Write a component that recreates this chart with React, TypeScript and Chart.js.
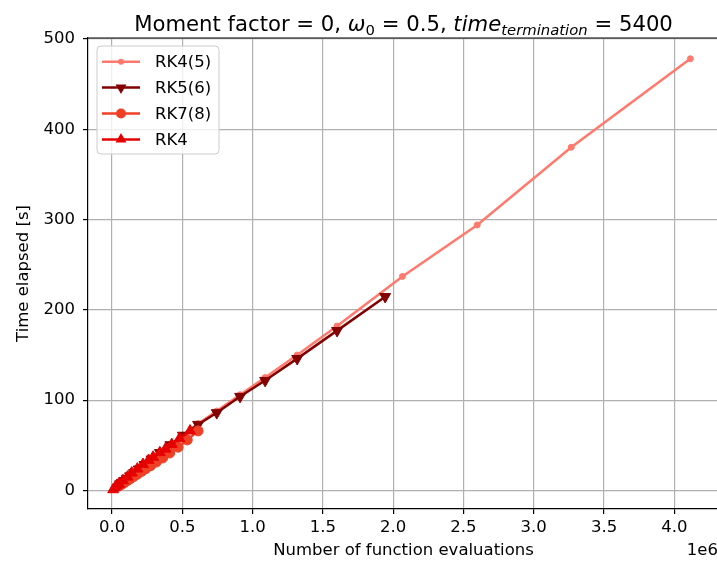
import React, { useEffect, useRef } from "react";
import { Chart, registerables } from "chart.js";

Chart.register(...registerables);

const FONT = "'DejaVu Sans', 'Liberation Sans', sans-serif";

// ---------- data ----------
const RK45_EVALS = [40e3, 48e3, 58e3, 71e3, 87e3, 105e3, 128e3, 156e3, 190e3, 231e3, 281e3, 341e3, 415e3, 504e3, 612e3, 745e3, 911e3, 1089e3, 1317e3, 1601e3, 2066e3, 2598e3, 3267e3, 4114e3];
const RK45_TIME = [5, 6.1, 7.4, 9, 11, 13.4, 16.2, 19.7, 24, 29, 35, 42, 51, 61.5, 74, 88, 106, 125, 150, 182, 237, 294, 380, 478];

const RK56_EVALS = [58e3, 71e3, 87e3, 105e3, 128e3, 156e3, 190e3, 231e3, 281e3, 341e3, 415e3, 504e3, 612e3, 745e3, 911e3, 1089e3, 1317e3, 1601e3, 1943e3];
const RK56_TIME = [7.3, 8.9, 10.9, 13.2, 16, 19.5, 23.6, 28.6, 34.6, 41.8, 50.5, 61, 73, 86, 104, 121.7, 146, 177, 214.6];

const RK78_EVALS = [60e3, 75e3, 90e3, 110e3, 130e3, 155e3, 180e3, 210e3, 240e3, 275e3, 315e3, 360e3, 410e3, 470e3, 535e3, 612e3];
const RK78_TIME = [6, 7.5, 9, 11, 13, 15.5, 18, 21, 24, 27.5, 31.5, 36, 41.5, 48, 56, 66];

const RK4_EVALS = [8e3, 20e3, 33e3, 50e3, 78e3, 110e3, 140e3, 180e3, 220e3, 260e3, 292e3, 340e3, 380e3, 425e3, 480e3, 555e3];
const RK4_TIME = [1, 3, 5, 7, 11, 15, 19.5, 24, 29, 33.5, 37, 42, 46, 51, 57.5, 66];

const SERIES_LABELS = ["RK4(5)", "RK5(6)", "RK7(8)", "RK4"];
const SERIES_COLORS = ["#ff796c", "#840000", "#ef4026", "#e50000"];

const X_TICKS = [0, 0.5e6, 1e6, 1.5e6, 2e6, 2.5e6, 3e6, 3.5e6, 4e6];
const Y_TICKS = [0, 100, 200, 300, 400, 500];
const X_LIMITS = [-0.171e6, 4.318e6];
const Y_LIMITS = [-20.5, 501];

const X_LABEL = "Number of function evaluations";
const Y_LABEL = "Time elapsed [s]";
const OFFSET_TEXT = "1e6";
const TITLE_PARTS = [
  { t: "Moment factor = 0, ", italic: false, sub: false },
  { t: "ω", italic: true, sub: false },
  { t: "0", italic: false, sub: true },
  { t: " = 0.5, ", italic: false, sub: false },
  { t: "time", italic: true, sub: false },
  { t: "termination", italic: true, sub: true },
  { t: " = 5400", italic: false, sub: false },
];

const zip = (xs: number[], ys: number[]) => xs.map((x, i) => ({ x, y: ys[i] }));

const decorPlugin = {
  id: "decor",
  afterDraw(chart: any) {
    const { ctx, chartArea: a } = chart;
    ctx.save();
    // top & right spines
    ctx.strokeStyle = "#000";
    ctx.lineWidth = 1.2;
    ctx.beginPath();
    ctx.moveTo(a.left, a.top);
    ctx.lineTo(a.right, a.top);
    ctx.lineTo(a.right, a.bottom);
    ctx.stroke();

    // title
    const base = 21.2;
    const parts = TITLE_PARTS.map((p) => {
      const size = p.sub ? base * 0.7 : base;
      const font = `${p.italic ? "italic " : ""}${size}px ${FONT}`;
      ctx.font = font;
      return { ...p, font, w: ctx.measureText(p.t).width };
    });
    const total = parts.reduce((s, p) => s + p.w, 0);
    let x = (a.left + a.right) / 2 - total / 2;
    ctx.fillStyle = "#000";
    ctx.textAlign = "left";
    ctx.textBaseline = "alphabetic";
    for (const p of parts) {
      ctx.font = p.font;
      ctx.fillText(p.t, x, p.sub ? 34.5 : 31);
      x += p.w;
    }

    // offset text
    ctx.font = `16.5px ${FONT}`;
    ctx.textAlign = "right";
    ctx.textBaseline = "middle";
    ctx.fillText(OFFSET_TEXT, 718, 551);

    // legend
    const lx = 97, ly = 46, lw = 122, lh = 108, r = 4;
    ctx.beginPath();
    ctx.moveTo(lx + r, ly);
    ctx.lineTo(lx + lw - r, ly);
    ctx.quadraticCurveTo(lx + lw, ly, lx + lw, ly + r);
    ctx.lineTo(lx + lw, ly + lh - r);
    ctx.quadraticCurveTo(lx + lw, ly + lh, lx + lw - r, ly + lh);
    ctx.lineTo(lx + r, ly + lh);
    ctx.quadraticCurveTo(lx, ly + lh, lx, ly + lh - r);
    ctx.lineTo(lx, ly + r);
    ctx.quadraticCurveTo(lx, ly, lx + r, ly);
    ctx.closePath();
    ctx.fillStyle = "rgba(255,255,255,0.8)";
    ctx.fill();
    ctx.strokeStyle = "#cccccc";
    ctx.lineWidth = 1;
    ctx.stroke();

    chart.data.datasets.forEach((ds: any, i: number) => {
      const cy = 61.7 + i * 25.9;
      ctx.strokeStyle = ds.borderColor;
      ctx.fillStyle = ds.borderColor;
      ctx.lineWidth = 2.5;
      ctx.beginPath();
      ctx.moveTo(102, cy);
      ctx.lineTo(140, cy);
      ctx.stroke();
      const mx = 121;
      const rad0 = (ds.pointRotation || 0) * Math.PI / 180;
      ctx.beginPath();
      if (ds.pointStyle === "triangle") {
        let rad = rad0;
        ctx.moveTo(mx + Math.sin(rad) * ds.pointRadius, cy - Math.cos(rad) * ds.pointRadius);
        rad += (2 * Math.PI) / 3;
        ctx.lineTo(mx + Math.sin(rad) * ds.pointRadius, cy - Math.cos(rad) * ds.pointRadius);
        rad += (2 * Math.PI) / 3;
        ctx.lineTo(mx + Math.sin(rad) * ds.pointRadius, cy - Math.cos(rad) * ds.pointRadius);
        ctx.closePath();
      } else {
        ctx.arc(mx, cy, ds.pointRadius, 0, Math.PI * 2);
      }
      ctx.fill();
      ctx.fillStyle = "#000";
      ctx.font = `16.5px ${FONT}`;
      ctx.textAlign = "left";
      ctx.textBaseline = "middle";
      ctx.fillText(ds.label, 155, cy + 1);
    });
    ctx.restore();
  },
};

export default function App() {
  const ref = useRef<HTMLCanvasElement | null>(null);

  useEffect(() => {
    if (!ref.current) return;
    const mk = (i: number, xs: number[], ys: number[], style: string, radius: number, rot: number, order: number) => ({
      label: SERIES_LABELS[i],
      data: zip(xs, ys),
      borderColor: SERIES_COLORS[i],
      backgroundColor: SERIES_COLORS[i],
      pointBackgroundColor: SERIES_COLORS[i],
      pointBorderColor: SERIES_COLORS[i],
      pointBorderWidth: 1,
      pointStyle: style,
      pointRadius: radius,
      pointRotation: rot,
      borderWidth: 2.5,
      showLine: true,
      tension: 0,
      order,
    });
    const tickFont = { family: FONT, size: 16.5 };
    const grid = { color: "#b0b0b0", lineWidth: 1.2, tickColor: "#000", tickLength: 5, tickWidth: 1.2, drawTicks: true };
    const border = { display: true, color: "#000", width: 1.2 };
    const chart = new Chart(ref.current, {
      type: "scatter",
      data: {
        datasets: [
          mk(0, RK45_EVALS, RK45_TIME, "circle", 3, 0, 4),
          mk(1, RK56_EVALS, RK56_TIME, "triangle", 6.3, 180, 3),
          mk(2, RK78_EVALS, RK78_TIME, "circle", 5, 0, 2),
          mk(3, RK4_EVALS, RK4_TIME, "triangle", 6.3, 0, 1),
        ] as any,
      },
      options: {
        responsive: false,
        animation: false,
        devicePixelRatio: 1,
        layout: { padding: { top: 38, right: 21, left: 0, bottom: 0 } },
        plugins: {
          legend: { display: false },
          title: { display: false },
          tooltip: { enabled: false },
        },
        scales: {
          x: {
            type: "linear",
            min: X_LIMITS[0],
            max: X_LIMITS[1],
            afterBuildTicks: (s: any) => {
              s.ticks = X_TICKS.map((v) => ({ value: v }));
            },
            afterFit: (s: any) => {
              s.height = 53;
            },
            ticks: {
              font: tickFont,
              color: "#000",
              padding: 4,
              maxRotation: 0,
              autoSkip: false,
              callback: (v: any) => (Number(v) / 1e6).toFixed(1),
            },
            grid,
            border,
            title: { display: true, text: X_LABEL, font: tickFont, color: "#000", padding: { top: 0, bottom: 1 } },
          },
          y: {
            type: "linear",
            min: Y_LIMITS[0],
            max: Y_LIMITS[1],
            afterBuildTicks: (s: any) => {
              s.ticks = Y_TICKS.map((v) => ({ value: v }));
            },
            afterFit: (s: any) => {
              s.width = 88;
            },
            ticks: {
              font: tickFont,
              color: "#000",
              padding: 8,
              autoSkip: false,
              callback: (v: any) => String(v),
            },
            grid,
            border,
            title: { display: true, text: Y_LABEL, font: tickFont, color: "#000", padding: { top: 14, bottom: 0 } },
          },
        },
      } as any,
      plugins: [decorPlugin as any],
    });
    return () => chart.destroy();
  }, []);

  return (
    <div style={{ position: "fixed", left: 0, top: 0, width: 717, height: 562, overflow: "hidden", background: "#fff" }}>
      <canvas ref={ref} width={740} height={562} style={{ display: "block" }} />
    </div>
  );
}
